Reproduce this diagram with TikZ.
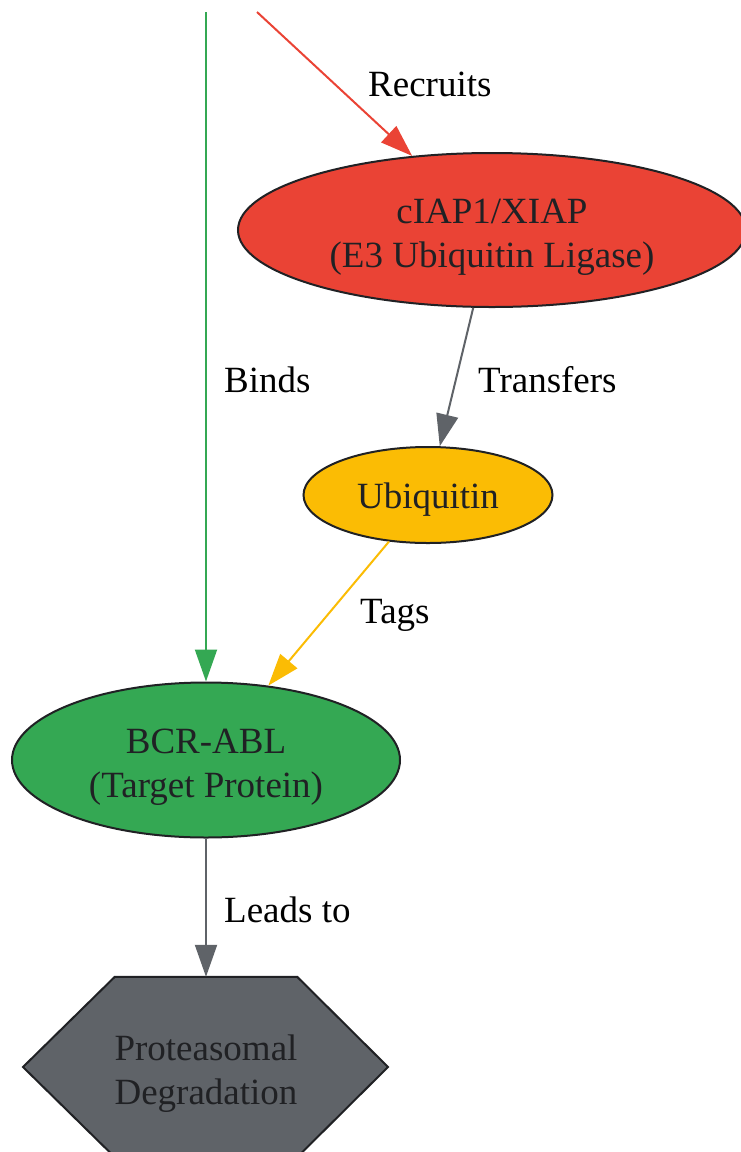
\documentclass[tikz,border=0pt]{standalone}
\usepackage{fontspec}
\setmainfont{Liberation Serif}
\usetikzlibrary{shapes.geometric,arrows.meta}
\definecolor{gred}{HTML}{EA4335}
\definecolor{gyellow}{HTML}{FBBC04}
\definecolor{ggreen}{HTML}{34A853}
\definecolor{ggray}{HTML}{5F6368}
\definecolor{ntext}{HTML}{202124}
\tikzset{
  oval/.style={ellipse, draw=ntext, line width=2pt, inner sep=0pt},
  ntxt/.style={text=ntext, align=center, inner sep=0pt, font=\fontsize{37}{44}\selectfont},
  conn/.style={line width=2pt, -{Triangle[length=32pt,width=22pt]}},
  elabel/.style={font=\fontsize{37}{44}\selectfont, text=black, anchor=west, inner sep=0pt}
}
\begin{document}
\begin{tikzpicture}[x=1pt,y=-1pt]
\useasboundingbox (0,0) rectangle (741,1152);
\clip (0,0) rectangle (741,1152);
\coordinate (g0) at (206,12);
\coordinate (r0) at (257,12);
\node[oval, fill=gred, minimum width=508pt, minimum height=154pt] (ciap) at (492,230) {};
\node[ntxt] (ciapt) at (492,237) {\strut cIAP1/XIAP\\\strut(E3 Ubiquitin Ligase)};
\node[oval, fill=gyellow, minimum width=249pt, minimum height=96pt] (ub) at (428,495) {};
\node[ntxt] (ubt) at (428,500) {\strut Ubiquitin};
\node[oval, fill=ggreen, minimum width=388pt, minimum height=155pt] (bcr) at (206,760) {};
\node[ntxt] (bcrt) at (206,767) {\strut BCR-ABL\\\strut(Target Protein)};
\node[rectangle, minimum width=182pt, minimum height=180pt, inner sep=0pt] (deg) at (206,1067) {};
\draw[fill=ggray, draw=ntext, line width=2pt] (deg.north west) -- (deg.north east) -- (388,1067) -- (deg.south east) -- (deg.south west) -- (23,1067) -- cycle;
\node[ntxt] (degt) at (206,1074) {\strut Proteasomal\\\strut Degradation};
\draw[conn, draw=ggreen, fill=ggreen] (g0) -- (bcr);
\node[elabel] (l1) at (224,380) {Binds};
\draw[conn, draw=gred, fill=gred] (r0) -- (ciap);
\node[elabel] (l2) at (368,84) {Recruits};
\draw[conn, draw=ggray, fill=ggray] (ciap) -- (ub);
\node[elabel] (l3) at (478,380) {Transfers};
\draw[conn, draw=gyellow, fill=gyellow] (ub) -- (bcr);
\node[elabel] (l4) at (360,615) {Tags};
\draw[conn, draw=ggray, fill=ggray] (bcr) -- (deg);
\node[elabel] (l5) at (224,910) {Leads to};
\end{tikzpicture}
\end{document}
